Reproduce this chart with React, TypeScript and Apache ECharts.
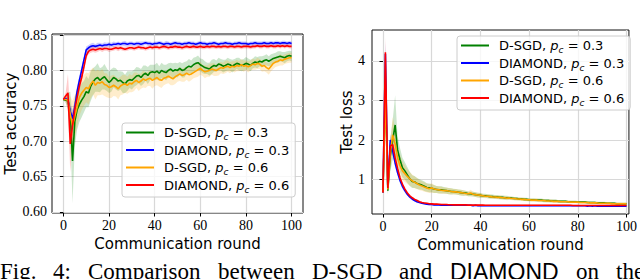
import React, { useEffect, useRef } from "react";
import * as echarts from "echarts";

const rounds = Array.from({ length: 101 }, (_, i) => i);
const xTicks = [0, 20, 40, 60, 80, 100];
const accTicks = [0.6, 0.65, 0.7, 0.75, 0.8, 0.85];
const lossTicks = [1, 2, 3, 4];

const seriesNames = ["D-SGD|0.3", "DIAMOND|0.3", "D-SGD|0.6", "DIAMOND|0.6"];
const seriesColors = ["#008000", "#0000ff", "#ffa500", "#ff0000"];

const accGreen = [0.759,0.758,0.757,0.740,0.672,0.728,0.744,0.752,0.758,0.763,
 0.770,0.768,0.778,0.784,0.788,0.790,0.786,0.789,0.791,0.787,
 0.783,0.786,0.790,0.788,0.785,0.786,0.783,0.781,0.785,0.787,
 0.786,0.789,0.792,0.793,0.790,0.794,0.796,0.793,0.797,0.798,
 0.797,0.799,0.796,0.800,0.798,0.797,0.800,0.802,0.799,0.801,
 0.800,0.803,0.800,0.801,0.804,0.806,0.805,0.808,0.810,0.811,
 0.808,0.806,0.804,0.803,0.802,0.805,0.807,0.806,0.809,0.808,
 0.806,0.807,0.809,0.808,0.806,0.808,0.810,0.809,0.807,0.808,
 0.810,0.809,0.807,0.810,0.812,0.811,0.813,0.812,0.814,0.815,
 0.813,0.815,0.817,0.818,0.819,0.820,0.819,0.818,0.820,0.821,
 0.820];
const accBlue = [0.759,0.760,0.758,0.742,0.732,0.748,0.770,0.786,0.800,0.815,
 0.829,0.832,0.834,0.835,0.834,0.835,0.836,0.835,0.836,0.836,
 0.837,0.836,0.837,0.837,0.838,0.837,0.838,0.838,0.837,0.838,
 0.838,0.837,0.838,0.838,0.837,0.838,0.839,0.838,0.838,0.837,
 0.838,0.838,0.839,0.838,0.837,0.838,0.838,0.837,0.838,0.839,
 0.838,0.838,0.837,0.838,0.838,0.839,0.838,0.838,0.837,0.838,
 0.839,0.838,0.838,0.837,0.838,0.838,0.839,0.838,0.837,0.838,
 0.838,0.839,0.838,0.838,0.837,0.838,0.838,0.839,0.838,0.838,
 0.838,0.837,0.838,0.838,0.839,0.838,0.838,0.838,0.839,0.838,
 0.838,0.839,0.838,0.839,0.839,0.838,0.839,0.839,0.838,0.839,
 0.838];
const accOrange = [0.759,0.759,0.758,0.738,0.722,0.735,0.748,0.762,0.768,0.772,
 0.776,0.774,0.781,0.785,0.779,0.783,0.782,0.784,0.780,0.779,
 0.776,0.777,0.779,0.777,0.774,0.778,0.780,0.781,0.779,0.782,
 0.781,0.784,0.786,0.783,0.785,0.788,0.786,0.788,0.789,0.786,
 0.788,0.790,0.787,0.786,0.789,0.790,0.792,0.790,0.788,0.791,
 0.793,0.795,0.793,0.794,0.796,0.794,0.795,0.797,0.799,0.801,
 0.803,0.800,0.798,0.799,0.800,0.802,0.801,0.800,0.802,0.804,
 0.803,0.805,0.806,0.804,0.806,0.805,0.807,0.806,0.808,0.806,
 0.807,0.805,0.807,0.809,0.808,0.810,0.809,0.806,0.807,0.804,
 0.802,0.806,0.810,0.812,0.813,0.815,0.814,0.816,0.817,0.818,
 0.818];
const accRed = [0.759,0.764,0.768,0.696,0.722,0.745,0.762,0.778,0.790,0.805,
 0.821,0.827,0.829,0.830,0.829,0.830,0.831,0.830,0.831,0.831,
 0.830,0.830,0.831,0.832,0.831,0.832,0.831,0.830,0.831,0.832,
 0.832,0.831,0.832,0.833,0.832,0.832,0.831,0.832,0.833,0.832,
 0.833,0.833,0.832,0.833,0.834,0.833,0.832,0.833,0.833,0.834,
 0.833,0.833,0.832,0.833,0.834,0.833,0.833,0.834,0.833,0.833,
 0.834,0.833,0.833,0.834,0.833,0.834,0.834,0.833,0.834,0.833,
 0.834,0.834,0.833,0.834,0.834,0.833,0.834,0.834,0.833,0.834,
 0.834,0.834,0.833,0.834,0.834,0.835,0.834,0.834,0.835,0.834,
 0.834,0.835,0.834,0.834,0.835,0.834,0.835,0.834,0.835,0.834,
 0.834];

const accGreenSpread = [0.001,0.004,0.012,0.030,0.060,0.035,0.028,0.025,0.024,0.022,
 0.022,0.020,0.021,0.019,0.018,0.020,0.017,0.016,0.018,0.016,
 0.015,0.016,0.014,0.015,0.014,0.013,0.015,0.013,0.014,0.012,
 0.013,0.012,0.013,0.011,0.012,0.013,0.011,0.012,0.011,0.010,
 0.011,0.012,0.010,0.011,0.010,0.011,0.010,0.009,0.011,0.010,
 0.010,0.009,0.010,0.011,0.009,0.010,0.009,0.010,0.009,0.010,
 0.009,0.010,0.009,0.008,0.009,0.010,0.009,0.008,0.009,0.008,
 0.009,0.008,0.009,0.008,0.009,0.008,0.008,0.009,0.008,0.008,
 0.009,0.008,0.008,0.007,0.008,0.008,0.007,0.008,0.007,0.008,
 0.007,0.008,0.007,0.007,0.008,0.007,0.007,0.008,0.007,0.007,
 0.007];
const accBlueSpread = [0.001,0.002,0.004,0.010,0.012,0.010,0.008,0.007,0.006,0.005,
 0.005,0.004,0.004,0.004,0.003,0.004,0.003,0.003,0.004,0.003,
 0.003,0.003,0.004,0.003,0.003,0.003,0.003,0.004,0.003,0.003,
 0.003,0.003,0.003,0.003,0.004,0.003,0.003,0.003,0.003,0.003,
 0.003,0.003,0.003,0.003,0.003,0.004,0.003,0.003,0.003,0.003,
 0.003,0.003,0.003,0.003,0.003,0.003,0.003,0.003,0.003,0.003,
 0.003,0.003,0.003,0.003,0.003,0.003,0.003,0.003,0.003,0.003,
 0.003,0.003,0.003,0.003,0.003,0.003,0.003,0.003,0.003,0.003,
 0.003,0.003,0.003,0.003,0.003,0.003,0.003,0.003,0.003,0.003,
 0.003,0.003,0.003,0.003,0.003,0.003,0.003,0.003,0.003,0.003,
 0.003];
const accOrangeSpread = [0.001,0.003,0.010,0.025,0.035,0.030,0.028,0.026,0.024,0.022,
 0.021,0.022,0.020,0.019,0.020,0.018,0.017,0.018,0.016,0.017,
 0.015,0.016,0.015,0.014,0.015,0.013,0.014,0.013,0.012,0.013,
 0.012,0.013,0.011,0.012,0.011,0.012,0.011,0.010,0.011,0.012,
 0.010,0.011,0.010,0.011,0.010,0.009,0.010,0.011,0.009,0.010,
 0.009,0.010,0.009,0.010,0.009,0.010,0.009,0.008,0.009,0.010,
 0.009,0.008,0.009,0.008,0.009,0.008,0.009,0.008,0.009,0.008,
 0.008,0.009,0.008,0.008,0.007,0.008,0.008,0.007,0.008,0.008,
 0.007,0.008,0.007,0.008,0.007,0.008,0.007,0.008,0.008,0.007,
 0.008,0.007,0.008,0.007,0.007,0.008,0.007,0.007,0.007,0.007,
 0.007];
const accRedSpread = [0.001,0.005,0.027,0.040,0.020,0.012,0.009,0.007,0.006,0.005,
 0.005,0.004,0.004,0.004,0.004,0.004,0.003,0.004,0.003,0.003,
 0.004,0.003,0.003,0.003,0.004,0.003,0.003,0.003,0.003,0.003,
 0.003,0.003,0.003,0.003,0.003,0.003,0.003,0.003,0.003,0.003,
 0.003,0.003,0.003,0.003,0.003,0.003,0.003,0.003,0.003,0.003,
 0.003,0.003,0.003,0.003,0.003,0.003,0.003,0.003,0.003,0.003,
 0.003,0.003,0.003,0.003,0.003,0.003,0.003,0.003,0.003,0.003,
 0.003,0.003,0.003,0.003,0.003,0.003,0.003,0.003,0.003,0.003,
 0.003,0.003,0.003,0.003,0.003,0.003,0.003,0.003,0.003,0.003,
 0.003,0.003,0.003,0.003,0.003,0.003,0.003,0.003,0.003,0.003,
 0.003];

const lossGreen = [0.68,3.30,0.72,1.60,2.00,2.38,1.75,1.50,1.30,1.22,
 1.12,1.02,0.95,0.94,0.90,0.88,0.86,0.83,0.80,0.79,
 0.78,0.76,0.75,0.74,0.74,0.73,0.72,0.71,0.70,0.70,
 0.69,0.68,0.67,0.66,0.66,0.64,0.64,0.63,0.62,0.61,
 0.60,0.59,0.59,0.58,0.57,0.57,0.56,0.56,0.55,0.55,
 0.54,0.54,0.53,0.53,0.52,0.52,0.51,0.51,0.50,0.50,
 0.49,0.49,0.49,0.48,0.48,0.48,0.47,0.47,0.47,0.46,
 0.46,0.46,0.45,0.45,0.45,0.45,0.44,0.44,0.44,0.44,
 0.43,0.43,0.43,0.43,0.42,0.42,0.42,0.42,0.41,0.41,
 0.41,0.41,0.40,0.40,0.40,0.40,0.39,0.39,0.39,0.39,
 0.39];
const lossBlue = [0.67,4.18,0.80,2.00,1.72,1.42,1.18,0.98,0.83,0.72,
 0.63,0.56,0.51,0.47,0.44,0.42,0.40,0.39,0.38,0.37,
 0.37,0.36,0.36,0.36,0.35,0.35,0.35,0.35,0.35,0.35,
 0.35,0.35,0.35,0.35,0.35,0.35,0.35,0.34,0.35,0.34,
 0.34,0.34,0.34,0.34,0.34,0.34,0.34,0.34,0.34,0.34,
 0.34,0.34,0.34,0.34,0.34,0.34,0.34,0.34,0.34,0.34,
 0.34,0.34,0.34,0.34,0.34,0.34,0.34,0.34,0.34,0.34,
 0.34,0.34,0.34,0.34,0.34,0.34,0.34,0.34,0.34,0.34,
 0.34,0.34,0.34,0.34,0.33,0.34,0.33,0.34,0.33,0.33,
 0.33,0.33,0.33,0.33,0.33,0.33,0.33,0.33,0.33,0.33,
 0.33];
const lossOrange = [0.68,3.20,0.75,1.67,2.13,1.90,1.55,1.35,1.22,1.15,
 1.08,1.02,0.97,0.93,0.90,0.86,0.84,0.81,0.79,0.77,
 0.79,0.76,0.75,0.74,0.73,0.72,0.72,0.71,0.70,0.69,
 0.69,0.68,0.67,0.66,0.65,0.64,0.66,0.63,0.62,0.61,
 0.60,0.59,0.58,0.58,0.57,0.56,0.56,0.55,0.55,0.54,
 0.54,0.53,0.53,0.52,0.52,0.51,0.51,0.50,0.50,0.49,
 0.49,0.48,0.48,0.48,0.47,0.47,0.47,0.46,0.46,0.46,
 0.45,0.45,0.45,0.44,0.44,0.44,0.44,0.43,0.43,0.43,
 0.43,0.42,0.42,0.42,0.42,0.41,0.41,0.41,0.41,0.40,
 0.40,0.40,0.40,0.40,0.39,0.39,0.39,0.39,0.39,0.39,
 0.39];
const lossRed = [0.67,4.22,0.78,1.85,1.88,1.55,1.28,1.04,0.88,0.76,
 0.66,0.59,0.54,0.50,0.47,0.44,0.42,0.41,0.40,0.39,
 0.385,0.38,0.38,0.375,0.37,0.37,0.37,0.365,0.365,0.36,
 0.36,0.36,0.36,0.36,0.36,0.355,0.355,0.355,0.355,0.355,
 0.355,0.355,0.35,0.35,0.35,0.35,0.35,0.35,0.35,0.35,
 0.35,0.35,0.35,0.35,0.35,0.35,0.35,0.35,0.35,0.35,
 0.35,0.35,0.35,0.35,0.35,0.35,0.35,0.35,0.35,0.35,
 0.35,0.35,0.35,0.35,0.35,0.35,0.35,0.35,0.345,0.345,
 0.345,0.345,0.345,0.345,0.345,0.345,0.345,0.345,0.345,0.345,
 0.345,0.345,0.345,0.345,0.345,0.345,0.345,0.345,0.345,0.345,
 0.345];

const lossGreenSpread = [0.05,0.40,0.10,0.40,0.50,0.75,0.35,0.30,0.25,0.22,
 0.20,0.18,0.16,0.15,0.14,0.13,0.12,0.12,0.11,0.11,
 0.10,0.10,0.09,0.09,0.09,0.08,0.08,0.08,0.08,0.07,
 0.07,0.07,0.07,0.07,0.06,0.06,0.06,0.06,0.06,0.06,
 0.06,0.05,0.05,0.05,0.05,0.05,0.05,0.05,0.05,0.05,
 0.05,0.05,0.04,0.04,0.04,0.04,0.04,0.04,0.04,0.04,
 0.04,0.04,0.04,0.04,0.04,0.04,0.04,0.04,0.04,0.04,
 0.04,0.04,0.03,0.03,0.03,0.03,0.03,0.03,0.03,0.03,
 0.03,0.03,0.03,0.03,0.03,0.03,0.03,0.03,0.03,0.03,
 0.03,0.03,0.03,0.03,0.03,0.03,0.03,0.03,0.03,0.03,
 0.03];
const lossBlueSpread = [0.03,0.30,0.10,0.15,0.12,0.10,0.08,0.07,0.06,0.05,
 0.04,0.04,0.03,0.03,0.03,0.02,0.02,0.02,0.02,0.02,
 0.02,0.02,0.02,0.02,0.02,0.02,0.02,0.02,0.02,0.02,
 0.02,0.02,0.02,0.02,0.02,0.02,0.02,0.02,0.02,0.02,
 0.02,0.02,0.02,0.02,0.02,0.02,0.02,0.02,0.02,0.02,
 0.02,0.02,0.02,0.02,0.02,0.02,0.02,0.02,0.02,0.02,
 0.02,0.02,0.02,0.02,0.02,0.02,0.02,0.02,0.02,0.02,
 0.02,0.02,0.02,0.02,0.02,0.02,0.02,0.02,0.02,0.02,
 0.02,0.02,0.02,0.02,0.02,0.02,0.02,0.02,0.02,0.02,
 0.02,0.02,0.02,0.02,0.02,0.02,0.02,0.02,0.02,0.02,
 0.02];
const lossOrangeSpread = [0.05,0.35,0.10,0.35,0.45,0.40,0.30,0.28,0.24,0.21,
 0.19,0.17,0.16,0.15,0.14,0.13,0.12,0.12,0.11,0.11,
 0.12,0.10,0.09,0.09,0.09,0.08,0.08,0.08,0.08,0.07,
 0.07,0.07,0.07,0.07,0.06,0.06,0.08,0.06,0.06,0.06,
 0.06,0.05,0.05,0.05,0.05,0.05,0.05,0.05,0.05,0.05,
 0.05,0.05,0.04,0.04,0.04,0.04,0.04,0.04,0.04,0.04,
 0.04,0.04,0.04,0.04,0.04,0.04,0.04,0.04,0.04,0.04,
 0.04,0.04,0.03,0.03,0.03,0.03,0.03,0.03,0.03,0.03,
 0.03,0.03,0.03,0.03,0.03,0.03,0.03,0.03,0.03,0.03,
 0.03,0.03,0.03,0.03,0.03,0.03,0.03,0.03,0.03,0.03,
 0.03];
const lossRedSpread = [0.03,0.38,0.10,0.15,0.15,0.12,0.09,0.07,0.06,0.05,
 0.04,0.04,0.03,0.03,0.03,0.02,0.02,0.02,0.02,0.02,
 0.02,0.02,0.02,0.02,0.02,0.02,0.02,0.02,0.02,0.02,
 0.02,0.02,0.02,0.02,0.02,0.02,0.02,0.02,0.02,0.02,
 0.02,0.02,0.02,0.02,0.02,0.02,0.02,0.02,0.02,0.02,
 0.02,0.02,0.02,0.02,0.02,0.02,0.02,0.02,0.02,0.02,
 0.02,0.02,0.02,0.02,0.02,0.02,0.02,0.02,0.02,0.02,
 0.02,0.02,0.02,0.02,0.02,0.02,0.02,0.02,0.02,0.02,
 0.02,0.02,0.02,0.02,0.02,0.02,0.02,0.02,0.02,0.02,
 0.02,0.02,0.02,0.02,0.02,0.02,0.02,0.02,0.02,0.02,
 0.02];

const captionWords = ["Fig.", "4:", "Comparison", "between", "D-SGD", "and", "DIAMOND", "on", "the"];
const captionX = [0, 53, 88, 218, 312, 399, 450, 576, 616];

const accMeans = [accGreen, accBlue, accOrange, accRed];
const accSpreads = [accGreenSpread, accBlueSpread, accOrangeSpread, accRedSpread];
const lossMeans = [lossGreen, lossBlue, lossOrange, lossRed];
const lossSpreads = [lossGreenSpread, lossBlueSpread, lossOrangeSpread, lossRedSpread];

const SANS = "DejaVu Sans";
const SERIF = "Liberation Serif";

function buildSeries(means: number[][], spreads: number[][], gi: number) {
  const out: any[] = [];
  means.forEach((m, k) => {
    const s = spreads[k];
    out.push({
      type: "custom", coordinateSystem: "cartesian2d", xAxisIndex: gi, yAxisIndex: gi,
      silent: true, z: 1, clip: true,
      data: [[rounds[0], m[0]]],
      renderItem: (params: any, api: any) => {
        const pts: number[][] = [];
        for (let i = 0; i < rounds.length; i++) pts.push(api.coord([rounds[i], m[i] + s[i]]));
        for (let i = rounds.length - 1; i >= 0; i--) pts.push(api.coord([rounds[i], m[i] - s[i]]));
        return { type: "polygon", shape: { points: pts }, style: { fill: seriesColors[k], opacity: 0.2 } };
      },
    });
  });
  means.forEach((m, k) => {
    out.push({
      type: "line", name: seriesNames[k], xAxisIndex: gi, yAxisIndex: gi,
      data: rounds.map((r, i) => [r, m[i]]),
      showSymbol: false, color: seriesColors[k],
      lineStyle: { color: seriesColors[k], width: 1.6 }, z: 3,
    });
  });
  return out;
}

function legendFormatter(name: string) {
  const [algo, val] = name.split("|");
  return `{n|${algo}, }{p|p}{s|c}{n| = ${val}}`;
}

const legendRich = {
  n: { fontFamily: SANS, fontSize: 13, color: "#000", lineHeight: 18 },
  p: { fontFamily: SANS, fontSize: 13, fontStyle: "italic", color: "#000", lineHeight: 18 },
  s: { fontFamily: SANS, fontSize: 9, fontStyle: "italic", color: "#000", lineHeight: 18, verticalAlign: "bottom" },
};

function makeLegend(left: number, top: number) {
  return {
    show: true, left, top, orient: "vertical",
    data: seriesNames,
    icon: "rect", itemWidth: 28, itemHeight: 2, itemGap: 2,
    padding: [3, 6, 3, 4],
    backgroundColor: "rgba(255,255,255,0.8)",
    borderColor: "#cccccc", borderWidth: 1, borderRadius: 3,
    formatter: legendFormatter,
    textStyle: { fontFamily: SANS, fontSize: 13, color: "#000", padding: [0, 0, 0, 5], rich: legendRich },
    selectedMode: false,
  };
}

function xAxisCfg(gi: number, min: number, max: number) {
  return {
    type: "value", gridIndex: gi, min, max,
    name: "Communication round", nameLocation: "middle", nameGap: 14,
    nameTextStyle: { fontFamily: SANS, fontSize: 15, color: "#000" },
    axisLine: { show: false },
    axisTick: { show: true, length: 3.5, customValues: xTicks, lineStyle: { color: "#000" } },
    axisLabel: { customValues: xTicks, fontFamily: SERIF, fontSize: 14, color: "#000", margin: 5 },
    splitLine: { show: true, lineStyle: { color: "#d8d8d8", width: 1.2 } },
  };
}

function yAxisCfg(gi: number, min: number, max: number, ticks: number[], name: string, gap: number, dec: number, margin: number) {
  return {
    type: "value", gridIndex: gi, min, max,
    name, nameLocation: "middle", nameGap: gap,
    nameTextStyle: { fontFamily: SANS, fontSize: 15, color: "#000" },
    axisLine: { show: false },
    axisTick: { show: true, length: 3.5, customValues: ticks, lineStyle: { color: "#000" } },
    axisLabel: { customValues: ticks, fontFamily: SERIF, fontSize: 14, color: "#000", margin,
      formatter: (v: number) => v.toFixed(dec) },
    splitLine: { show: true, lineStyle: { color: "#d8d8d8", width: 1.2 } },
  };
}

export default function App() {
  const ref = useRef<HTMLDivElement>(null);
  useEffect(() => {
    if (!ref.current) return;
    const chart = echarts.init(ref.current, undefined, { renderer: "svg" });
    chart.setOption({
      animation: false,
      backgroundColor: "#ffffff",
      grid: [
        { left: 52, top: 34, width: 251, height: 179, show: true, borderColor: "#111", borderWidth: 1, backgroundColor: "transparent" },
        { left: 372, top: 30, width: 258, height: 184, show: true, borderColor: "#111", borderWidth: 1, backgroundColor: "transparent" },
      ],
      xAxis: [xAxisCfg(0, -5, 105), xAxisCfg(1, -4.5, 101)],
      yAxis: [
        yAxisCfg(0, 0.5985, 0.8515, accTicks, "Test accuracy", 33, 2, 5),
        yAxisCfg(1, 0.13, 4.78, lossTicks, "Test loss", 16, 0, 7),
      ],
      legend: [makeLegend(122, 123), makeLegend(457, 36)],
      series: [
        ...buildSeries(accMeans, accSpreads, 0),
        ...buildSeries(lossMeans, lossSpreads, 1),
      ],
      graphic: captionWords.map((w, i) => ({
        type: "text", left: captionX[i], top: 260, silent: true,
        style: {
          text: w,
          font: w === "DIAMOND" ? `23px "Liberation Sans"` : `23px "${SERIF}"`,
          fill: "#000",
        },
      })),
    });
    return () => chart.dispose();
  }, []);
  return <div ref={ref} style={{ position: "fixed", left: 0, top: 0, width: 640, height: 279 }} />;
}
